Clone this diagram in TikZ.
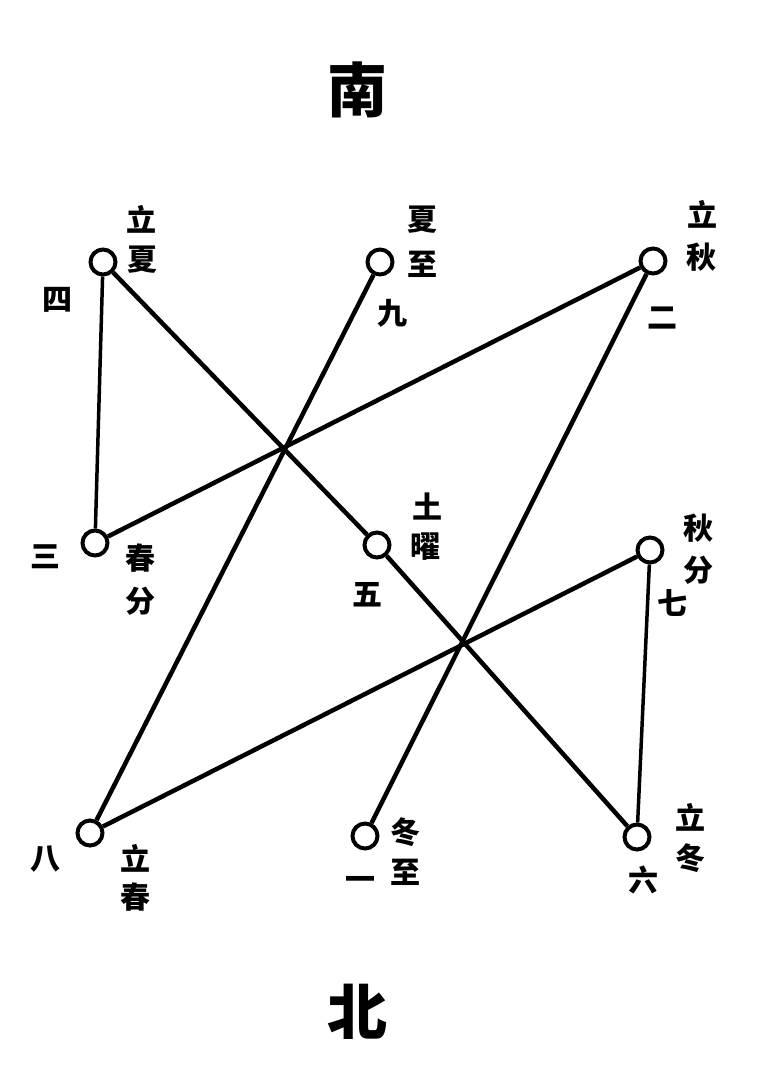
\documentclass[tikz,border=0pt]{standalone}
\usepackage{fontspec}
\newfontfamily\cjk{Noto Sans CJK SC Black}
\begin{document}
\begin{tikzpicture}[x=1pt,y=-1pt,
  pt/.style={circle,draw=black,line width=4pt,fill=white,minimum size=25pt,inner sep=0pt},
  lbl/.style={font=\cjk\fontsize{30}{30}\selectfont,inner sep=0pt},
  big/.style={font=\cjk\fontsize{60}{60}\selectfont,inner sep=0pt},
  ln/.style={line width=4.5pt},
  thin/.style={line width=3.5pt}]
\useasboundingbox (0,0) rectangle (766,1071);
\node[big] (nan) at (357,90) {南};
\node[big] (bei) at (357,1012) {北};
% points
\node[pt] (p4) at (103,262) {};
\node[pt] (p9) at (380,262) {};
\node[pt] (p2) at (653,261) {};
\node[pt] (p3) at (95,543) {};
\node[pt] (p5) at (377,545) {};
\node[pt] (p7) at (650,550) {};
\node[pt] (p8) at (90,833) {};
\node[pt] (p1) at (365,836) {};
\node[pt] (p6) at (637,837) {};
% connectors
\draw[ln] (p1) -- (p2);
\draw[ln] (p2) -- (p3);
\draw[thin] (p3) -- (p4);
\draw[ln] (p4) -- (p5);
\draw[ln] (p5) -- (p6);
\draw[thin] (p6) -- (p7);
\draw[ln] (p7) -- (p8);
\draw[ln] (p8) -- (p9);
% labels
\node[lbl] (l4a) at (141,219) {立};
\node[lbl] (l4b) at (142,260) {夏};
\node[lbl] (n4) at (57,300) {四};
\node[lbl] (l9a) at (422,220) {夏};
\node[lbl] (l9b) at (422,264) {至};
\node[lbl] (n9) at (392,313) {九};
\node[lbl] (l2a) at (702,214) {立};
\node[lbl] (l2b) at (701,257) {秋};
\node[lbl] (n2) at (662,318) {二};
\node[lbl] (n3) at (45,557) {三};
\node[lbl] (l3a) at (140,558) {春};
\node[lbl] (l3b) at (140,601) {分};
\node[lbl] (l5a) at (427,506) {土};
\node[lbl] (l5b) at (425,547) {曜};
\node[lbl] (n5) at (367,595) {五};
\node[lbl] (l7a) at (698,528) {秋};
\node[lbl] (l7b) at (698,570) {分};
\node[lbl] (n7) at (672,603) {七};
\node[lbl] (n8) at (45,859) {八};
\node[lbl] (l8a) at (135,858) {立};
\node[lbl] (l8b) at (135,897) {春};
\node[lbl] (l1a) at (405,832) {冬};
\node[lbl] (l1b) at (405,872) {至};
\node[lbl] (n1) at (360,883) {一};
\node[lbl] (l6a) at (690,817) {立};
\node[lbl] (l6b) at (690,858) {冬};
\node[lbl] (n6) at (643,880) {六};
\end{tikzpicture}
\end{document}
